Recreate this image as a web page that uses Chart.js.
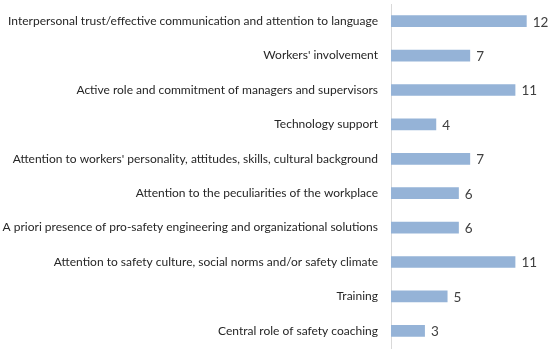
<!DOCTYPE html>
<html><head><meta charset="utf-8">
<script src="https://cdn.jsdelivr.net/npm/chart.js@4"></script>
<style>html,body{margin:0;padding:0;background:#fff}#wrap{width:550px;height:353px}</style>
</head><body><div id="wrap"><canvas id="c"></canvas></div>
<script>
const categories = [
  "Interpersonal trust/effective communication and attention to language",
  "Workers' involvement",
  "Active role and commitment of managers and supervisors",
  "Technology support",
  "Attention to workers' personality, attitudes, skills, cultural background",
  "Attention to the peculiarities of the workplace",
  "A priori presence of pro-safety engineering and organizational solutions",
  "Attention to safety culture, social norms and/or safety climate",
  "Training",
  "Central role of safety coaching"
];
const counts = [12, 7, 11, 4, 7, 6, 6, 11, 5, 3];

const FONT = "Lato, 'Open Sans', sans-serif";
const valueLabels = {
  id: 'valueLabels',
  afterDatasetsDraw(chart) {
    const ctx = chart.ctx;
    const meta = chart.getDatasetMeta(0);
    ctx.save();
    ctx.font = "13.5px " + FONT;
    ctx.fillStyle = "#404040";
    ctx.textBaseline = "middle";
    ctx.textAlign = "left";
    meta.data.forEach((bar, i) => {
      ctx.fillText(String(counts[i]), bar.x + 6, bar.y + 1);
    });
    ctx.restore();
  }
};

new Chart(document.getElementById('c'), {
  type: 'bar',
  data: {
    labels: categories,
    datasets: [{
      data: counts,
      backgroundColor: '#95b3d7',
      borderWidth: 0,
      barPercentage: 0.34,
      categoryPercentage: 1.0
    }]
  },
  options: {
    indexAxis: 'y',
    responsive: true,
    maintainAspectRatio: false,
    animation: false,
    layout: { padding: { top: 4, bottom: 5, left: 0, right: 12 } },
    plugins: { legend: { display: false }, tooltip: { enabled: false } },
    scales: {
      x: { display: false, min: 0, max: 13 },
      y: {
        afterFit(scale) { scale.width = 391; scale.paddingTop = 0; scale.paddingBottom = 0; },
        grid: { display: false, drawTicks: true, tickLength: 13 },
        border: { display: true, color: '#d9d9d9', width: 1 },
        ticks: { color: '#262626', font: { family: FONT, size: 12 }, padding: 0, autoSkip: false }
      }
    }
  },
  plugins: [valueLabels]
});
</script></body></html>
